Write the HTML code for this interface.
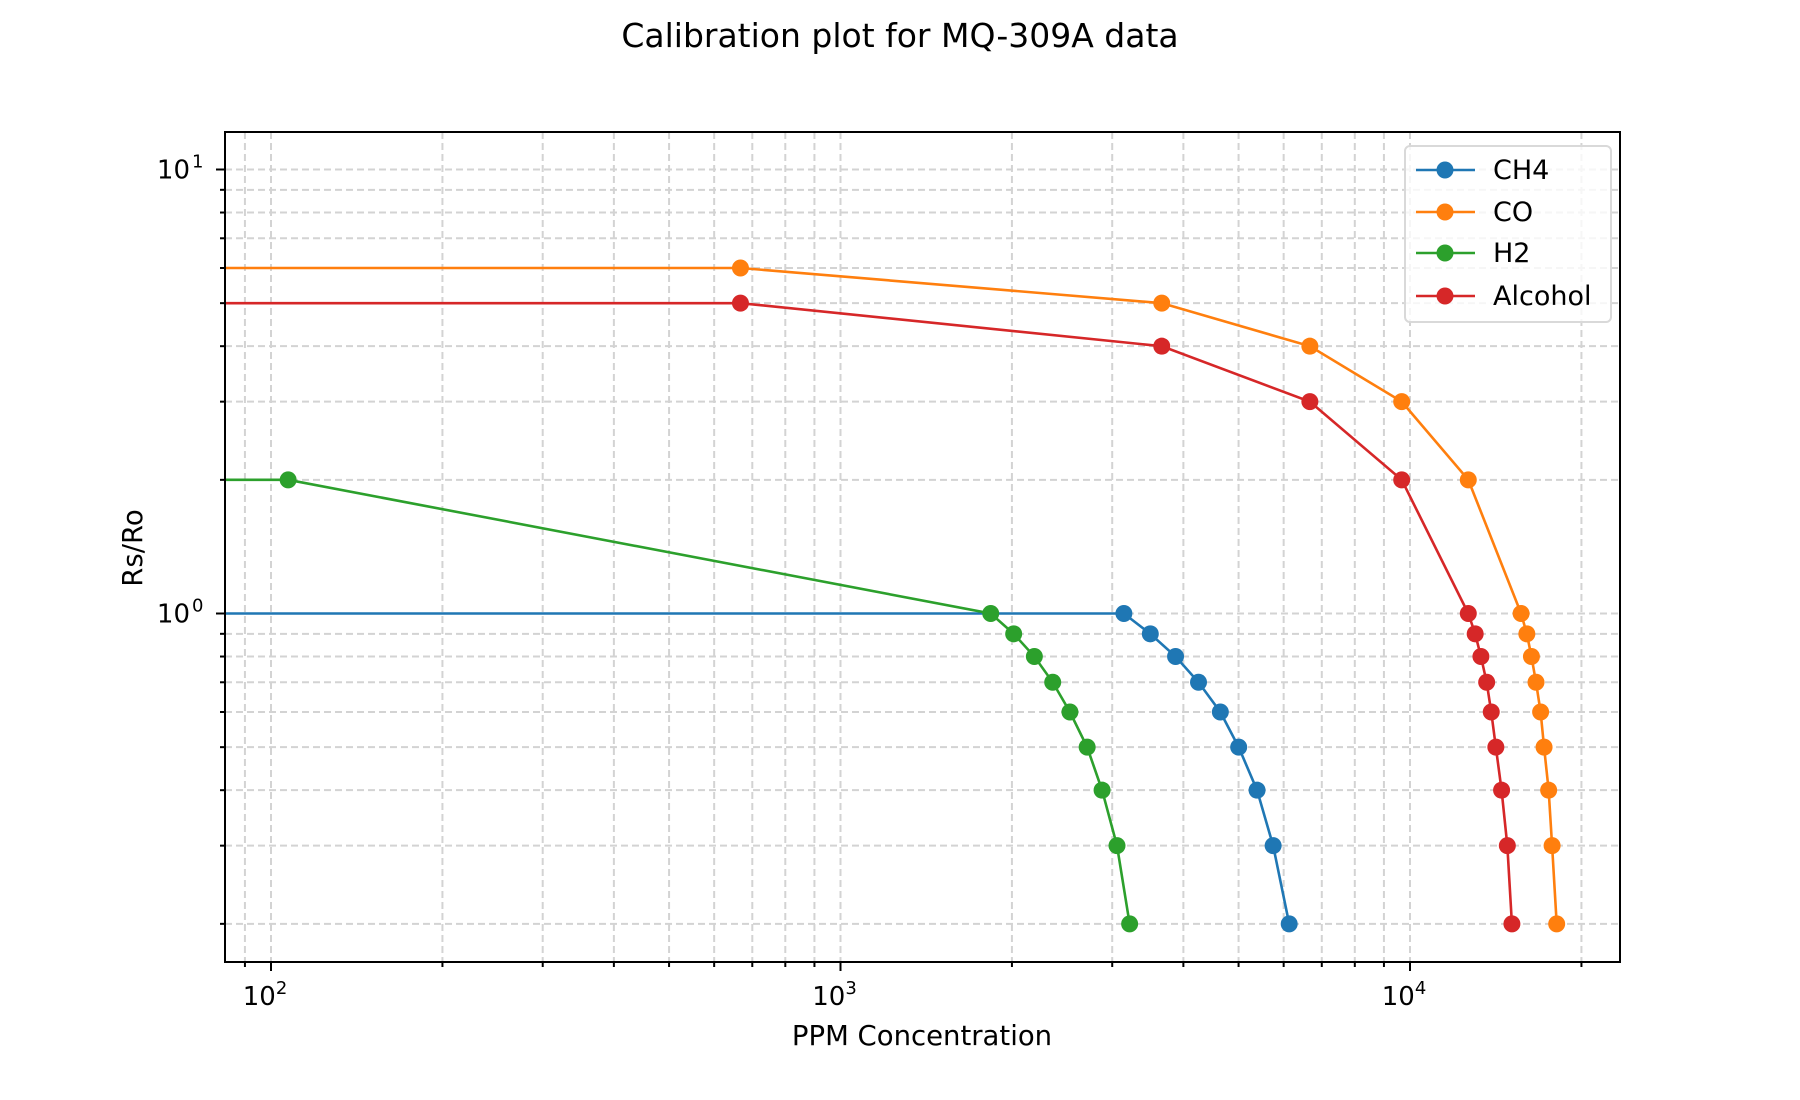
<!DOCTYPE html>
<html><head><meta charset="utf-8"><style>
html,body{margin:0;padding:0;background:#fff;width:1800px;height:1100px;overflow:hidden}
text{font-family:"DejaVu Sans","Liberation Sans",sans-serif;fill:#000}
</style></head><body>
<svg id="s" width="1800" height="1100" xmlns="http://www.w3.org/2000/svg"></svg>
<script>
const L=225,R=1620,T=132,B=962;
const X0=271,DX=569.5,Y0=613.5,DY=444;
const fx=v=>X0+(Math.log10(v)-2)*DX;
const fy=v=>Y0-Math.log10(v)*DY;
let h='';
h+=`<text x="900" y="47" font-size="33" text-anchor="middle">Calibration plot for MQ-309A data</text>`;
h+=`<defs><clipPath id="c"><rect x="${L}" y="${T}" width="${R-L}" height="${B-T}"/></clipPath></defs>`;
let g='';
const xs=[];for(let e=1;e<=4;e++)for(let m=1;m<10;m++)xs.push(m*Math.pow(10,e));
for(const v of xs){const x=fx(v);if(x>L&&x<R)g+=`<line x1="${x}" y1="${T}" x2="${x}" y2="${B}"/>`;}
const ys=[];for(let e=-1;e<=1;e++)for(let m=1;m<10;m++)ys.push(m*Math.pow(10,e));
for(const v of ys){const y=fy(v);if(y>T&&y<B)g+=`<line x1="${L}" y1="${y}" x2="${R}" y2="${y}"/>`;}
h+=`<g stroke="#d3d3d3" stroke-width="2" stroke-dasharray="7,4">${g}</g>`;
let t='';
for(const v of xs){const x=fx(v);if(x>=L&&x<=R){const maj=Math.abs(Math.log10(v)%1)<1e-9;t+=`<line x1="${x}" y1="${B}" x2="${x}" y2="${B+(maj?9:5)}"/>`;}}
for(const v of ys){const y=fy(v);if(y>=T&&y<=B){const maj=Math.abs(Math.log10(v)%1)<1e-9||Math.abs(Math.log10(v))<1e-9;t+=`<line x1="${L}" y1="${y}" x2="${L-(maj?9:5)}" y2="${y}"/>`;}}
h+=`<g stroke="#000" stroke-width="2">${t}</g>`;
[[2,100],[3,1000],[4,10000]].forEach(([e,v])=>{const x=fx(v);h+=`<text x="${x-6}" y="${B+43}" font-size="26" text-anchor="middle">10<tspan font-size="18" dy="-11">${e}</tspan></text>`;});
[[1,10],[0,1]].forEach(([e,v])=>{const y=fy(v);h+=`<text x="190" y="${y+9}" font-size="26" text-anchor="end">10</text><text x="192" y="${y-2}" font-size="18">${e}</text>`;});
h+=`<text x="922" y="1045" font-size="27.5" text-anchor="middle">PPM Concentration</text>`;
h+=`<text transform="translate(142,548) rotate(-90)" font-size="27.5" text-anchor="middle">Rs/Ro</text>`;
const k=1.148;
const ser=[
["#1f77b4",[979,1002,1024,1044,1063,1079,1095,1109,1123],[1,.9,.8,.7,.6,.5,.4,.3,.2]],
["#ff7f0e",[645,1012,1141,1221,1279,1325,1330,1334,1338,1342,1345,1349,1352,1356],[6,5,4,3,2,1,.9,.8,.7,.6,.5,.4,.3,.2]],
["#2ca02c",[251,863,883,901,917,932,947,960,973,984],[2,1,.9,.8,.7,.6,.5,.4,.3,.2]],
["#d62728",[645,1012,1141,1221,1279,1285,1290,1295,1299,1303,1308,1313,1317],[5,4,3,2,1,.9,.8,.7,.6,.5,.4,.3,.2]]];
let d='';
for(const [c,px,vy] of ser){
 let pts=[[L-5,fy(vy[0])]];
 px.forEach((p,i)=>pts.push([p*k,fy(vy[i])]));
 d+=`<polyline fill="none" stroke="${c}" stroke-width="2.6" points="${pts.map(p=>p.join(',')).join(' ')}"/>`;
 pts.slice(1).forEach(p=>d+=`<circle cx="${p[0]}" cy="${p[1]}" r="8.5" fill="${c}"/>`);
}
h+=`<g clip-path="url(#c)">${d}</g>`;
h+=`<rect x="${L}" y="${T}" width="${R-L}" height="${B-T}" fill="none" stroke="#000" stroke-width="2"/>`;
h+=`<rect x="1405" y="146" width="206" height="176" rx="5" fill="#fff" fill-opacity="0.8" stroke="#d9d9d9" stroke-width="2"/>`;
const names=["CH4","CO","H2","Alcohol"],ly=[170,212,253,296];
ser.forEach((s,i)=>{h+=`<line x1="1416" y1="${ly[i]}" x2="1475" y2="${ly[i]}" stroke="${s[0]}" stroke-width="2.6"/><circle cx="1445" cy="${ly[i]}" r="8.5" fill="${s[0]}"/><text x="1493" y="${ly[i]+9}" font-size="27">${names[i]}</text>`;});
document.getElementById('s').innerHTML=h;
</script>
</body></html>
